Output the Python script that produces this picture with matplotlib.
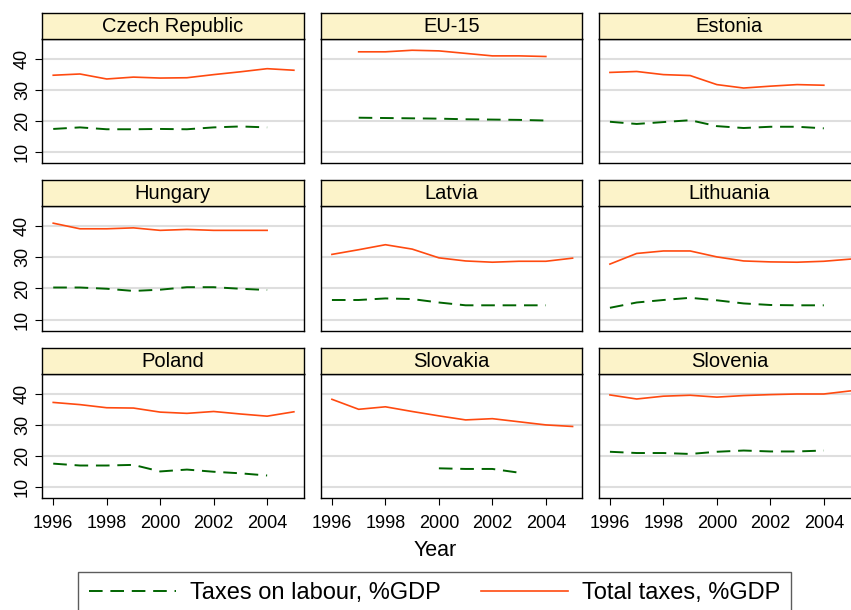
import matplotlib
matplotlib.use("Agg")
import matplotlib.pyplot as plt
from matplotlib.lines import Line2D
import numpy as np

plt.rcParams['font.family'] = ['Liberation Sans', 'DejaVu Sans']

nan = np.nan
years = [1996, 1997, 1998, 1999, 2000, 2001, 2002, 2003, 2004, 2005]
countries = ["Czech Republic", "EU-15", "Estonia",
             "Hungary", "Latvia", "Lithuania",
             "Poland", "Slovakia", "Slovenia"]

# taxes on labour, %GDP
labour_cz = [17.5, 18.0, 17.4, 17.4, 17.5, 17.4, 18.0, 18.3, 18.0, nan]
labour_eu = [nan, 21.1, 21.0, 20.9, 20.8, 20.6, 20.5, 20.4, 20.2, nan]
labour_ee = [19.8, 19.1, 19.7, 20.3, 18.4, 17.8, 18.2, 18.2, 17.7, nan]
labour_hu = [20.3, 20.3, 19.9, 19.2, 19.6, 20.4, 20.4, 19.9, 19.5, nan]
labour_lv = [16.3, 16.3, 16.8, 16.6, 15.5, 14.6, 14.6, 14.6, 14.6, nan]
labour_lt = [13.8, 15.5, 16.3, 17.0, 16.2, 15.2, 14.7, 14.6, 14.6, nan]
labour_pl = [17.6, 17.0, 17.0, 17.2, 15.1, 15.7, 15.0, 14.5, 13.8, nan]
labour_sk = [nan, nan, nan, nan, 16.1, 15.9, 15.9, 14.7, nan, nan]
labour_si = [21.4, 21.0, 21.0, 20.7, 21.4, 21.8, 21.5, 21.5, 21.8, nan]

# total taxes, %GDP
total_cz = [34.7, 35.1, 33.5, 34.1, 33.8, 33.9, 34.9, 35.8, 36.8, 36.3]
total_eu = [nan, 42.2, 42.2, 42.7, 42.5, 41.7, 40.9, 40.9, 40.7, nan]
total_ee = [35.6, 35.9, 34.9, 34.6, 31.7, 30.6, 31.2, 31.7, 31.5, nan]
total_hu = [40.9, 39.1, 39.1, 39.4, 38.6, 38.9, 38.6, 38.6, 38.6, nan]
total_lv = [30.9, 32.4, 34.0, 32.6, 29.8, 28.8, 28.4, 28.7, 28.7, 29.7]
total_lt = [27.8, 31.2, 32.0, 32.0, 30.1, 28.8, 28.5, 28.4, 28.7, 29.4]
total_pl = [37.2, 36.5, 35.5, 35.4, 34.1, 33.7, 34.3, 33.5, 32.8, 34.2]
total_sk = [38.2, 35.0, 35.8, 34.3, 32.9, 31.6, 32.0, 31.0, 30.0, 29.5]
total_si = [39.6, 38.3, 39.2, 39.5, 38.9, 39.4, 39.7, 39.9, 39.9, 40.9]

labour = [labour_cz, labour_eu, labour_ee, labour_hu, labour_lv,
          labour_lt, labour_pl, labour_sk, labour_si]
total = [total_cz, total_eu, total_ee, total_hu, total_lv,
         total_lt, total_pl, total_sk, total_si]

yticks = [10, 20, 30, 40]
xticks = [1996, 1998, 2000, 2002, 2004]

green = "#006400"
red = "#FF4A10"
strip = "#FCF3C9"

W, H = 851, 610
fig = plt.figure(figsize=(W / 100, H / 100), dpi=100)

# panel geometry in pixels
col_left = [42, 320.7, 598.7]
plot_top = [38.7, 206.0, 373.7]
pw, ph, sh = 261.5, 124.6, 26.0

for i, name in enumerate(countries):
    r, c = divmod(i, 3)
    x0 = col_left[c]
    y_top = plot_top[r]
    ax = fig.add_axes([x0 / W, 1 - (y_top + ph) / H, pw / W, ph / H])
    head = fig.add_axes([x0 / W, 1 - y_top / H, pw / W, sh / H])

    # strip title
    head.set_facecolor(strip)
    head.set_xticks([])
    head.set_yticks([])
    for s in head.spines.values():
        s.set_linewidth(1.0)
        s.set_color("black")
    head.text(0.5, 0.47, name, ha="center", va="center", fontsize=14.5,
              transform=head.transAxes)

    ax.plot(years, labour[i], color=green, lw=1.4, dashes=(7, 4))
    ax.plot(years, total[i], color=red, lw=1.2)

    ax.set_xlim(1995.58, 2005.36)
    ax.set_ylim(6.5, 46.4)
    ax.set_yticks(yticks)
    ax.set_xticks(xticks)
    ax.grid(axis="y", color="#DEDEDE", lw=1.5)
    ax.set_axisbelow(True)
    for s in ax.spines.values():
        s.set_linewidth(1.0)
        s.set_color("black")

    ax.tick_params(axis="both", direction="out", length=5, width=0.8,
                   labelsize=13, color="black")
    ax.tick_params(axis="y", labelrotation=90, pad=3)
    ax.tick_params(axis="x", pad=7)
    if c != 0:
        ax.tick_params(axis="y", left=False, labelleft=False)
    else:
        for lab in ax.get_yticklabels():
            lab.set_va("center")
    if r != 2:
        ax.tick_params(axis="x", bottom=False, labelbottom=False)

fig.text(435.5 / W, 1 - 551 / H, "Year", ha="center", va="center",
         fontsize=15.5)

handles = [Line2D([], [], color=green, lw=1.4, dashes=(7, 4)),
           Line2D([], [], color=red, lw=1.2)]
leg = fig.legend(handles, ["Taxes on labour, %GDP", "Total taxes, %GDP"],
                 loc="upper left", ncol=2, mode="expand",
                 bbox_to_anchor=(78 / W, 1 - 571.7 / H, 713 / W, 0),
                 fontsize=17, handlelength=3.7, handletextpad=0.6,
                 borderaxespad=0, borderpad=0.45, columnspacing=1.5,
                 frameon=True, fancybox=False)
leg.get_frame().set_edgecolor("#333333")
leg.get_frame().set_linewidth(1.0)

fig.savefig("out.png", dpi=100)
